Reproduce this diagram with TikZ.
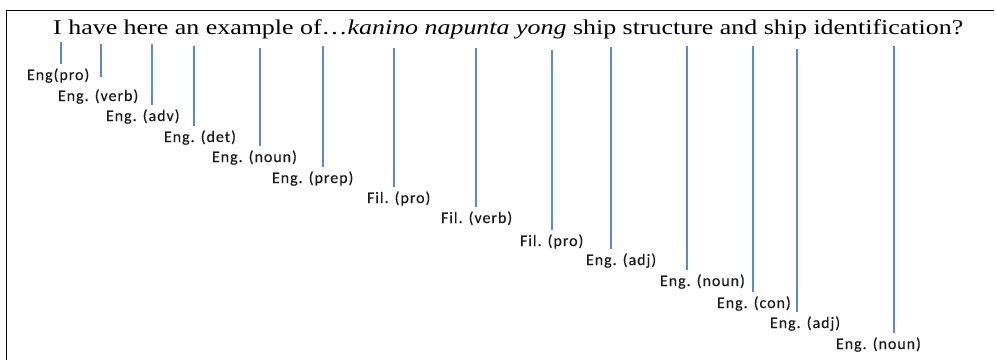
\documentclass[tikz,border=0pt]{standalone}
\usepackage{fontspec}
\setmainfont{Liberation Serif}
\newfontfamily\labelfont{Carlito}[LetterSpace=6,FakeBold=0.3]
\definecolor{tagline}{RGB}{88,138,204}
\begin{document}
\begin{tikzpicture}[x=1pt,y=-1pt,
  frame/.style={line width=1.6pt,black},
  tag/.style={anchor=base west,inner sep=0pt,outer sep=4pt,
    font=\labelfont\fontsize{16}{19}\selectfont,text=black!90},
  link/.style={draw=tagline,line width=1.3pt}]
  \useasboundingbox (0,0) rectangle (996,360);
  % open frame: left and top edges only
  \draw[frame] (6.5,360) -- (6.5,10.5) -- (994,10.5);
  % sentence, stretched sideways to its full width
  \node[anchor=base west,inner sep=0pt,font=\fontsize{21}{25}\selectfont] (sent) at (53,34)
    {\resizebox{910pt}{\height}{I have here an example of\ldots\textit{kanino napunta yong} ship structure and ship identification?}};
  % word-class tags
  \node[tag] (l1)  at (23,80)  {Eng(pro)};
  \node[tag] (l2)  at (54,101) {Eng. (verb)};
  \node[tag] (l3)  at (102,121) {Eng. (adv)};
  \node[tag] (l4)  at (160,142) {Eng. (det)};
  \node[tag] (l5)  at (208,162) {Eng. (noun)};
  \node[tag] (l6)  at (268,183) {Eng. (prep)};
  \node[tag] (l7)  at (363,203) {Fil. (pro)};
  \node[tag] (l8)  at (437,223) {Fil. (verb)};
  \node[tag] (l9)  at (516,246) {Fil. (pro)};
  \node[tag] (l10) at (582,265) {Eng. (adj)};
  \node[tag] (l11) at (656,286) {Eng. (noun)};
  \node[tag] (l12) at (713,308) {Eng. (con)};
  \node[tag] (l13) at (766,328) {Eng. (adj)};
  \node[tag] (l14) at (832,349) {Eng. (noun)};
  % upper ends of the links, just below each word
  \coordinate (t1)  at (61,42);
  \coordinate (t2)  at (101,44);
  \coordinate (t3)  at (152,44);
  \coordinate (t4)  at (194,46);
  \coordinate (t5)  at (260,48);
  \coordinate (t6)  at (323,46);
  \coordinate (t7)  at (394,48);
  \coordinate (t8)  at (476,48);
  \coordinate (t9)  at (552,50);
  \coordinate (t10) at (611,47);
  \coordinate (t11) at (687,46);
  \coordinate (t12) at (753,46);
  \coordinate (t13) at (797,49);
  \coordinate (t14) at (894,46);
  \foreach \i in {1,3,4,5,6,7,8,9,10,11,12,13,14}
    \draw[link] (t\i) -- (t\i |- l\i.north);
  \draw[link,shorten >=8pt] (t2) -- (t2 |- l2.north);
\end{tikzpicture}
\end{document}
